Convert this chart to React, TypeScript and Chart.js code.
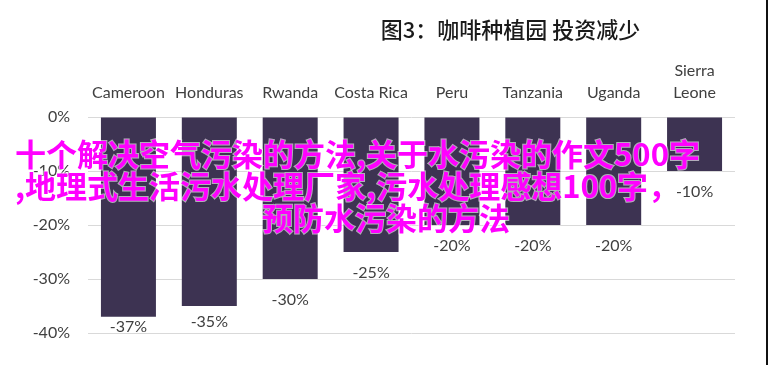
import React, { useEffect, useRef } from "react";
import { Chart, registerables } from "chart.js";

Chart.register(...registerables);

const TITLE = "图3：咖啡种植园 投资减少";
const CATEGORIES: (string | string[])[] = [
  "Cameroon",
  "Honduras",
  "Rwanda",
  "Costa Rica",
  "Peru",
  "Tanzania",
  "Uganda",
  ["Sierra", "Leone"],
];
const VALUES = [-37, -35, -30, -25, -20, -20, -20, -10];
const Y_MIN = -40;
const Y_MAX = 0;
const Y_STEP = 10;
const OVERLAY_LINES = [
  "十个解决空气污染的方法,关于水污染的作文500字",
  ",地理式生活污水处理厂家,污水处理感想100字，",
  "预防水污染的方法",
];

const BAR_COLOR = "#3d3352";
const TEXT_COLOR = "#404040";
const FONT = "Lato, 'Noto Sans', sans-serif";

export default function App() {
  const ref = useRef<HTMLCanvasElement | null>(null);

  useEffect(() => {
    document.body.style.margin = "0";
    const canvas = ref.current;
    if (!canvas) return;

    const labelPlugin = {
      id: "valueLabels",
      afterDatasetsDraw(chart: any) {
        const ctx = chart.ctx;
        const meta = chart.getDatasetMeta(0);
        const bottom = chart.chartArea.bottom;
        ctx.save();
        ctx.font = `16px ${FONT}`;
        ctx.fillStyle = TEXT_COLOR;
        ctx.textAlign = "center";
        ctx.textBaseline = "middle";
        meta.data.forEach((el: any, i: number) => {
          const end = el.y;
          const off = Math.min(21, (bottom - end) * 0.5 + 2);
          ctx.fillText(`${VALUES[i]}%`, el.x, end + off);
        });
        ctx.restore();
      },
    };

    const titlePlugin = {
      id: "customTitle",
      afterDraw(chart: any) {
        const ctx = chart.ctx;
        ctx.save();
        ctx.font = `500 22px 'Noto Sans CJK SC', sans-serif`;
        ctx.fillStyle = "#1a1a1a";
        ctx.textAlign = "center";
        ctx.textBaseline = "middle";
        ctx.fillText(TITLE, chart.chartArea.left + chart.chartArea.width * 0.653, 30);
        ctx.restore();
      },
    };

    const overlayPlugin = {
      id: "overlayText",
      afterDraw(chart: any) {
        const ctx = chart.ctx;
        ctx.save();
        ctx.font = `bold 31px 'Noto Sans CJK SC', sans-serif`;
        ctx.textBaseline = "middle";
        ctx.textAlign = "left";
        const pos = [
          [15, 154],
          [15, 186],
          [262, 218],
        ];
        OVERLAY_LINES.forEach((line, i) => {
          ctx.lineWidth = 2;
          ctx.strokeStyle = "rgba(255,255,255,0.6)";
          ctx.strokeText(line, pos[i][0], pos[i][1]);
          ctx.fillStyle = "#ff00ff";
          ctx.fillText(line, pos[i][0], pos[i][1]);
        });
        ctx.restore();
      },
    };

    const chart = new Chart(canvas, {
      type: "bar",
      data: {
        labels: CATEGORIES,
        datasets: [
          {
            data: VALUES,
            backgroundColor: BAR_COLOR,
            borderWidth: 0,
            barPercentage: 0.68,
            categoryPercentage: 1,
          },
        ],
      },
      options: {
        animation: false,
        responsive: false,
        maintainAspectRatio: false,
        layout: { padding: { top: 42, right: 33, bottom: 32, left: 0 } },
        plugins: {
          legend: { display: false },
          title: { display: false },
          tooltip: { enabled: false },
        },
        scales: {
          x: {
            position: "top",
            grid: { display: false },
            border: { display: false },
            ticks: {
              color: TEXT_COLOR,
              font: { family: FONT, size: 16, lineHeight: 1.4 },
              padding: 5,
              maxRotation: 0,
              autoSkip: false,
            },
            afterFit(scale: any) {
              scale.height = 75;
            },
          },
          y: {
            min: Y_MIN,
            max: Y_MAX,
            grid: { color: "#d9d9d9", lineWidth: 1, drawTicks: false },
            border: { display: false },
            ticks: {
              stepSize: Y_STEP,
              color: TEXT_COLOR,
              font: { family: FONT, size: 16 },
              padding: 18,
              callback: (v: any) => `${v}%`,
            },
            afterFit(scale: any) {
              scale.width = 88;
            },
          },
        },
      },
      plugins: [labelPlugin, titlePlugin, overlayPlugin],
    });

    return () => chart.destroy();
  }, []);

  return (
    <div style={{ position: "relative", width: 768, height: 365, background: "#fff" }}>
      <canvas ref={ref} width={768} height={365} style={{ display: "block" }} />
      <div
        style={{
          position: "absolute",
          right: 0,
          top: 0,
          width: 2,
          height: 365,
          background: "#111",
        }}
      />
    </div>
  );
}
